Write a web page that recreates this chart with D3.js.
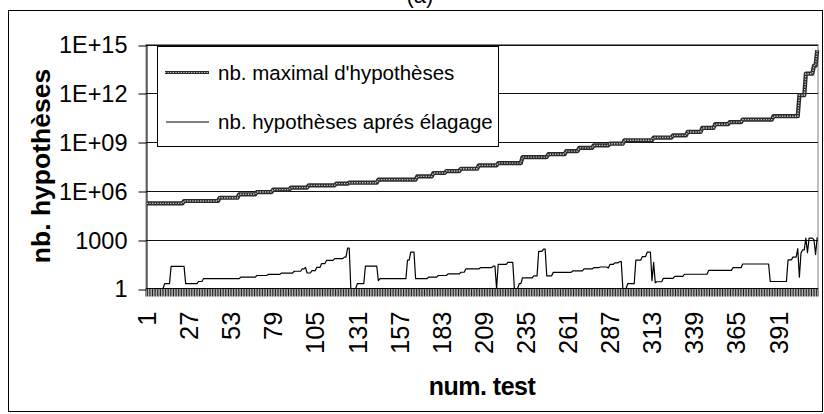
<!DOCTYPE html>
<html>
<head>
<meta charset="utf-8">
<script src="https://cdn.jsdelivr.net/npm/d3@7"></script>
<style>
  html, body { margin: 0; padding: 0; background: #fff; }
  svg { display: block; }
  text { font-family: "Liberation Sans", Arial, sans-serif; fill: #000; }
</style>
</head>
<body>
<svg id="chart" width="824" height="414"></svg>
<script>
// Number of tests on the category axis
const testCount = 415;

// Maximum number of hypotheses: value held from each starting test onwards
const maxStart = [1, 24, 46, 58, 69, 79, 90, 101, 118, 126, 144, 168, 178, 186, 195, 206, 218, 233,
  249, 260, 268, 277, 287, 296, 314, 326, 335, 344, 352, 361, 369, 388, 404, 408, 413, 415];
const maxValue = [1.7e5, 2.4e5, 3.8e5, 6.2e5, 8.5e5, 1.2e6, 1.6e6, 2.2e6, 2.8e6, 3.2e6, 4.9e6, 7.8e6,
  1.26e7, 1.66e7, 2.3e7, 3.7e7, 5.1e7, 1.2e8, 1.8e8, 2.8e8, 4.4e8, 6.3e8, 8e8, 1.3e9, 1.9e9, 2.6e9,
  4.2e9, 7.4e9, 1.26e10, 1.7e10, 2.4e10, 3.9e10, 7.6e11, 1.6e13, 5e13, 4.5e14];

// Number of hypotheses after pruning: value held from each starting test onwards
const prunedStart = [1, 12, 16, 25, 33, 36, 59, 69, 76, 84, 92, 97, 99, 100, 103, 106, 109, 112, 117,
  123, 125, 127, 131, 136, 144, 145, 162, 164, 167, 175, 181, 187, 195, 198, 207, 215, 217, 218, 224,
  228, 231, 233, 240, 243, 246, 248, 252, 264, 271, 277, 281, 286, 287, 290, 293, 295, 298, 303, 307,
  310, 313, 314, 315, 316, 320, 327, 333, 348, 363, 369, 386, 397, 400, 403, 404, 405, 406, 408, 409,
  410, 413, 414, 415];
const prunedValue = [1, 2, 23, 2, 2.7, 4, 5, 6.3, 7.3, 8.7, 11.5, 16, 20, 9, 12.5, 20, 34, 53, 68,
  85, 300, 1, 2, 24, 3, 4, 55, 170, 4, 5, 6.3, 8, 10, 16, 19, 24, 1, 30, 40,
  1, 2, 4.5, 6, 190, 260, 6, 9.8, 12, 16, 19, 21, 18, 30, 38, 45, 1, 2, 55, 90,
  170, 3, 40, 2.3, 2.6, 4.2, 5.5, 7.5, 13, 19, 32, 2.7, 57, 85, 280, 5, 150, 235, 1250, 160,
  1250, 1000, 125, 1400];

// Axis labels
const xLabelTests = [1, 27, 53, 79, 105, 131, 157, 183, 209, 235, 261, 287, 313, 339, 365, 391];
const yTickValues = [1, 1e3, 1e6, 1e9, 1e12, 1e15];
const yTickLabels = ["1", "1000", "1E+06", "1E+09", "1E+12", "1E+15"];

const seriesNames = ["nb. maximal d'hypothèses", "nb. hypothèses aprés élagage"];

// Expand the step runs into one value per test
function expand(starts, values) {
  const out = [];
  let k = 0;
  for (let t = 1; t <= testCount; t++) {
    while (k + 1 < starts.length && starts[k + 1] <= t) k++;
    out.push({ test: t, value: values[k] });
  }
  return out;
}
const maxSeries = expand(maxStart, maxValue);
const prunedSeries = expand(prunedStart, prunedValue);

const svg = d3.select("#chart");
const plot = { left: 146, right: 818, top: 44.5, bottom: 288.5 };

const x = d3.scaleBand()
  .domain(d3.range(1, testCount + 1))
  .range([plot.left, plot.right])
  .padding(0);
const bw = x.bandwidth();
const y = d3.scaleLog().domain([1, 1e15]).range([plot.bottom, plot.top]);

// Outer chart border
svg.append("rect")
  .attr("x", 8.5).attr("y", 10.5)
  .attr("width", 814).attr("height", 401)
  .attr("fill", "#fff").attr("stroke", "#000").attr("stroke-width", 1);

// Title (partly above the frame)
svg.append("text")
  .attr("x", 420).attr("y", 3)
  .attr("text-anchor", "middle")
  .style("font-size", "22px")
  .text("(a)");

// Plot area border
svg.append("rect")
  .attr("x", plot.left).attr("y", plot.top)
  .attr("width", plot.right - plot.left).attr("height", plot.bottom - plot.top)
  .attr("fill", "none").attr("stroke", "#808080").attr("stroke-width", 1);

// Horizontal gridlines
svg.append("g")
  .selectAll("line")
  .data(yTickValues.slice(1))
  .join("line")
  .attr("x1", plot.left).attr("x2", plot.right)
  .attr("y1", d => Math.round(y(d)) + 0.5).attr("y2", d => Math.round(y(d)) + 0.5)
  .attr("stroke", "#111").attr("stroke-width", 1);

// Y axis
const yAxis = d3.axisLeft(y)
  .tickValues(yTickValues)
  .tickFormat((d, i) => yTickLabels[i])
  .tickSizeInner(8).tickSizeOuter(0).tickPadding(11);
const gy = svg.append("g")
  .attr("transform", `translate(${plot.left + 0.5},0)`)
  .call(yAxis);
gy.select(".domain").attr("stroke", "#000");
gy.selectAll(".tick line").attr("stroke", "#000")
  .attr("transform", d => `translate(0,${Math.round(y(d)) + 0.5 - y(d)})`);
gy.selectAll(".tick text")
  .style("font-family", '"Liberation Sans", Arial, sans-serif')
  .style("font-size", "23.5px")
  .attr("dy", "0.36em");

// X axis: a tick between every pair of tests
const tickEdges = d3.range(1, testCount + 1).map(t => x(t)).concat([plot.right]);
const gx = svg.append("g");
gx.selectAll("line.tk")
  .data(tickEdges)
  .join("line")
  .attr("class", "tk")
  .attr("x1", d => d).attr("x2", d => d)
  .attr("y1", plot.bottom).attr("y2", plot.bottom + 8)
  .attr("stroke", "#000").attr("stroke-width", 0.9);
gx.append("line")
  .attr("x1", plot.left).attr("x2", plot.right)
  .attr("y1", plot.bottom).attr("y2", plot.bottom)
  .attr("stroke", "#000").attr("stroke-width", 1.2);
gx.selectAll("text")
  .data(xLabelTests)
  .join("text")
  .attr("transform", d => `translate(${x(d) + bw / 2},${plot.bottom + 23}) rotate(-90)`)
  .attr("text-anchor", "end")
  .attr("dy", "0.36em")
  .style("font-size", "25.5px")
  .text(d => d);

// Axis titles
svg.append("text")
  .attr("transform", `translate(50,166) rotate(-90)`)
  .attr("text-anchor", "middle")
  .style("font-size", "26.5px").style("font-weight", "bold")
  .text("nb. hypothèses");
svg.append("text")
  .attr("x", (plot.left + plot.right) / 2).attr("y", 395)
  .attr("text-anchor", "middle")
  .style("font-size", "25px").style("font-weight", "bold")
  .style("letter-spacing", "-0.5px")
  .text("num. test");

const line = d3.line()
  .x(d => x(d.test) + bw / 2)
  .y(d => y(d.value));

// Series 1: patterned heavy line
function patterned(sel, path, outer, inner) {
  sel.append("path").attr("d", path).attr("fill", "none")
    .attr("stroke", "#2a2a2a").attr("stroke-width", outer).attr("stroke-linejoin", "round");
  sel.append("path").attr("d", path).attr("fill", "none")
    .attr("stroke", "#c8c8c8").attr("stroke-width", inner)
    .attr("stroke-dasharray", "1.3,1.3");
}
patterned(svg.append("g"), line(maxSeries), 4.2, 1.4);

// Series 2: thin black line
svg.append("path")
  .attr("d", line(prunedSeries))
  .attr("fill", "none")
  .attr("stroke", "#000").attr("stroke-width", 1.2)
  .attr("stroke-linejoin", "round");

// Legend
const lg = svg.append("g");
lg.append("rect")
  .attr("x", 157.5).attr("y", 46.5).attr("width", 341).attr("height", 100)
  .attr("fill", "#fff").attr("stroke", "#000").attr("stroke-width", 1);
patterned(lg, "M165,72.5L209,72.5", 3, 1);
lg.append("line")
  .attr("x1", 166).attr("x2", 209).attr("y1", 122).attr("y2", 122)
  .attr("stroke", "#000").attr("stroke-width", 1.2);
lg.selectAll("text")
  .data(seriesNames)
  .join("text")
  .attr("x", 218).attr("y", (d, i) => 79.5 + i * 49.5)
  .style("font-size", "20.5px")
  .text(d => d);
</script>
</body>
</html>
